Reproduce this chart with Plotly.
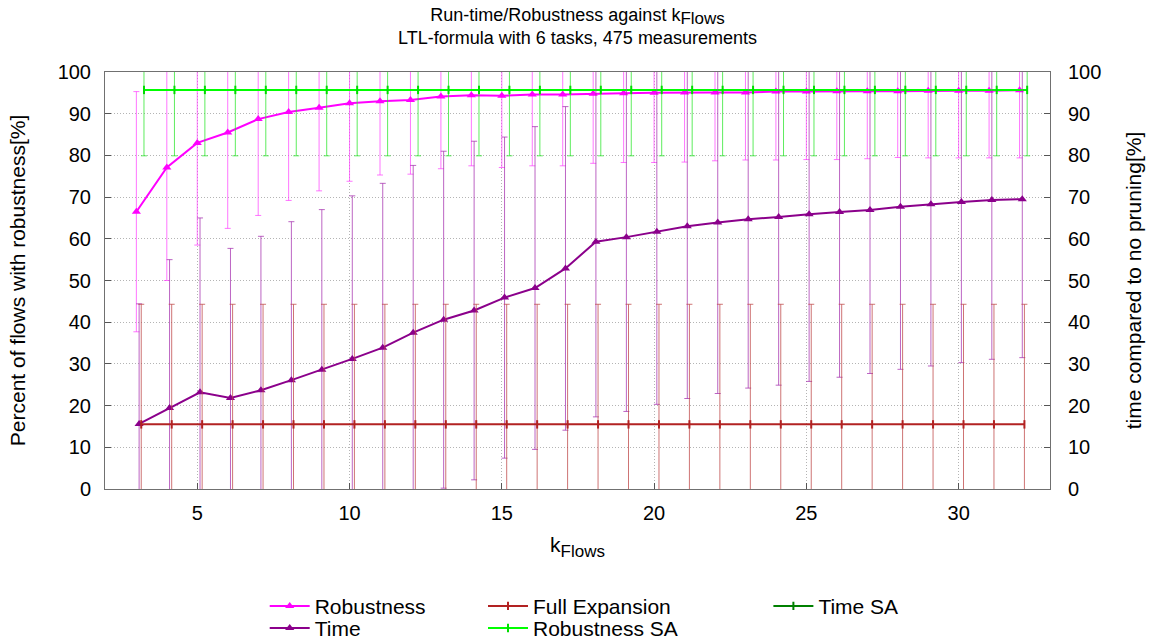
import plotly.graph_objects as go

# ---- data ----
k_flows = [3, 4, 5, 6, 7, 8, 9, 10, 11, 12, 13, 14, 15, 16, 17, 18, 19, 20,
           21, 22, 23, 24, 25, 26, 27, 28, 29, 30, 31, 32]

robustness = [66.5, 77.1, 83.0, 85.5, 88.7, 90.4, 91.4, 92.5, 93.0, 93.3,
              94.1, 94.4, 94.3, 94.6, 94.6, 94.8, 94.9, 95.0, 95.1, 95.1,
              95.1, 95.3, 95.3, 95.4, 95.4, 95.4, 95.5, 95.5, 95.5, 95.6]
robustness_err = [28.8, 27.1, 24.5, 23.0, 23.1, 21.2, 19.9, 18.7, 17.7, 17.8,
                  17.3, 16.9, 17.2, 17.1, 17.1, 16.7, 16.6, 16.7, 16.7, 16.4,
                  16.2, 16.4, 16.3, 16.4, 16.2, 15.9, 16.1, 16.1, 16.1, 16.2]

time = [15.6, 19.4, 23.2, 21.8, 23.7, 26.1, 28.6, 31.2, 33.9, 37.5,
        40.6, 42.8, 45.9, 48.2, 52.9, 59.3, 60.4, 61.7, 63.0, 63.9,
        64.7, 65.2, 65.9, 66.4, 66.9, 67.7, 68.3, 68.8, 69.3, 69.5]
time_err = [28.8, 35.6, 41.8, 35.9, 36.9, 38.0, 38.4, 39.1, 39.4, 40.1,
            40.4, 40.6, 38.5, 38.7, 38.8, 42.0, 41.8, 41.4, 41.3, 41.0,
            40.5, 40.3, 40.1, 39.6, 39.2, 39.0, 38.8, 38.5, 38.2, 38.0]

full_expansion = [15.5, 15.5, 15.5, 15.5, 15.5, 15.5, 15.5, 15.5, 15.5, 15.5,
                  15.5, 15.5, 15.5, 15.5, 15.5, 15.5, 15.5, 15.5, 15.5, 15.5,
                  15.5, 15.5, 15.5, 15.5, 15.5, 15.5, 15.5, 15.5, 15.5, 15.5]
full_expansion_err = [28.8, 28.8, 28.8, 28.8, 28.8, 28.8, 28.8, 28.8, 28.8, 28.8,
                      28.8, 28.8, 28.8, 28.8, 28.8, 28.8, 28.8, 28.8, 28.8, 28.8,
                      28.8, 28.8, 28.8, 28.8, 28.8, 28.8, 28.8, 28.8, 28.8, 28.8]

robustness_sa = [95.7, 95.7, 95.7, 95.7, 95.7, 95.7, 95.7, 95.7, 95.7, 95.7,
                 95.7, 95.7, 95.7, 95.7, 95.7, 95.7, 95.7, 95.7, 95.7, 95.7,
                 95.7, 95.7, 95.7, 95.7, 95.7, 95.7, 95.7, 95.7, 95.7, 95.7]
robustness_sa_err = [15.8, 15.8, 15.8, 15.8, 15.8, 15.8, 15.8, 15.8, 15.8, 15.8,
                     15.8, 15.8, 15.8, 15.8, 15.8, 15.8, 15.8, 15.8, 15.8, 15.8,
                     15.8, 15.8, 15.8, 15.8, 15.8, 15.8, 15.8, 15.8, 15.8, 15.8]

time_sa = []  # not visible in the plot, only in the key

# small horizontal offsets used by the original plot to separate series
offset_time = 0.09
offset_full = 0.16
offset_rsa = 0.25

FONT = "Liberation Sans, Arial, sans-serif"
TICK_SIZE = 20
LABEL_SIZE = 21
AXIS_TITLE_SIZE = 21
SUB = "<sub><span style='font-size:17px'>Flows</span></sub>"

fig = go.Figure()


def shifted(xs, d):
    return [x + d for x in xs]


fig.add_trace(go.Scatter(
    x=k_flows, y=robustness, name="Robustness", mode="lines+markers",
    line=dict(color="#ff00ff", width=2),
    marker=dict(symbol="triangle-up", size=8, color="#ff00ff"),
    error_y=dict(type="data", array=robustness_err, color="rgba(255,60,255,0.7)",
                 thickness=1, width=3),
    legend="legend",
))
fig.add_trace(go.Scatter(
    x=shifted(k_flows, offset_time), y=time, name="Time", mode="lines+markers",
    yaxis="y2",
    line=dict(color="#8b008b", width=2),
    marker=dict(symbol="triangle-up", size=8, color="#8b008b"),
    error_y=dict(type="data", array=time_err, color="rgba(165,50,175,0.75)",
                 thickness=1, width=3),
    legend="legend2",
))
fig.add_trace(go.Scatter(
    x=shifted(k_flows, offset_full), y=full_expansion, name="Full Expansion",
    mode="lines+markers", yaxis="y2",
    line=dict(color="#b22222", width=2),
    marker=dict(symbol="line-ns", size=6, line=dict(color="#b22222", width=2)),
    error_y=dict(type="data", array=full_expansion_err, color="rgba(190,70,70,0.75)",
                 thickness=1, width=3),
    legend="legend3",
))
fig.add_trace(go.Scatter(
    x=shifted(k_flows, offset_rsa), y=robustness_sa, name="Robustness SA",
    mode="lines+markers",
    line=dict(color="#00ff00", width=2),
    marker=dict(symbol="line-ns", size=6, line=dict(color="#00dd00", width=2)),
    error_y=dict(type="data", array=robustness_sa_err, color="rgba(40,230,40,0.75)",
                 thickness=1, width=3),
    legend="legend4",
))
fig.add_trace(go.Scatter(
    x=[None] if not time_sa else k_flows, y=[None] if not time_sa else time_sa,
    name="Time SA", mode="lines+markers", yaxis="y2",
    line=dict(color="#008000", width=2),
    marker=dict(symbol="line-ns", size=6, line=dict(color="#008000", width=2)),
    legend="legend5",
))

GRID = dict(showgrid=True, gridcolor="#b4b4b4", griddash="1px,2px", gridwidth=1)

axis_common = dict(
    showline=True, linecolor="#707070", linewidth=1, mirror=True,
    ticks="inside", ticklen=6, tickcolor="#555555",
    tickfont=dict(family=FONT, size=TICK_SIZE, color="black"),
    zeroline=False,
)

legend_common = dict(
    orientation="v", yanchor="top", xanchor="left",
    font=dict(family=FONT, size=LABEL_SIZE, color="black"),
    bgcolor="rgba(0,0,0,0)", tracegroupgap=0, itemwidth=40,
)

ROW1, ROW2 = -0.232, -0.285
COL1, COL2, COL3 = 0.169, 0.40, 0.702

fig.update_layout(
    width=1156, height=643,
    margin=dict(l=105, r=106, t=72, b=154, autoexpand=False),
    paper_bgcolor="white", plot_bgcolor="white",
    font=dict(family=FONT, size=LABEL_SIZE, color="black"),
    title=dict(
        text="Run-time/Robustness against k" + SUB + "<br>LTL-formula with 6 tasks, 475 measurements",
        x=0.4996, xanchor="center", yref="container", y=0.968, yanchor="top",
        font=dict(family=FONT, size=18, color="black"),
    ),
    xaxis=dict(
        range=[1.97, 33], dtick=5, tick0=0, ticklabelstandoff=6,
        title=dict(text="k" + SUB, font=dict(family=FONT, size=LABEL_SIZE), standoff=14),
        **GRID, **axis_common,
    ),
    yaxis=dict(
        range=[0, 100], dtick=10, ticklabelstandoff=9,
        title=dict(text="Percent of flows with robustness[%]",
                   font=dict(family=FONT, size=AXIS_TITLE_SIZE), standoff=26),
        **GRID, **axis_common,
    ),
    yaxis2=dict(
        range=[0, 100], dtick=10, overlaying="y", side="right",
        showgrid=False, ticklabelstandoff=17,
        title=dict(text="time compared to no pruning[%]",
                   font=dict(family=FONT, size=AXIS_TITLE_SIZE), standoff=25),
        showline=False, ticks="inside", ticklen=6, tickcolor="#555555",
        tickfont=dict(family=FONT, size=TICK_SIZE, color="black"), zeroline=False,
    ),
    legend=dict(x=COL1, y=ROW1, **legend_common),
    legend2=dict(x=COL1, y=ROW2, **legend_common),
    legend3=dict(x=COL2, y=ROW1, **legend_common),
    legend4=dict(x=COL2, y=ROW2, **legend_common),
    legend5=dict(x=COL3, y=ROW1, **legend_common),
    showlegend=True,
)

fig.write_html("out.html")
